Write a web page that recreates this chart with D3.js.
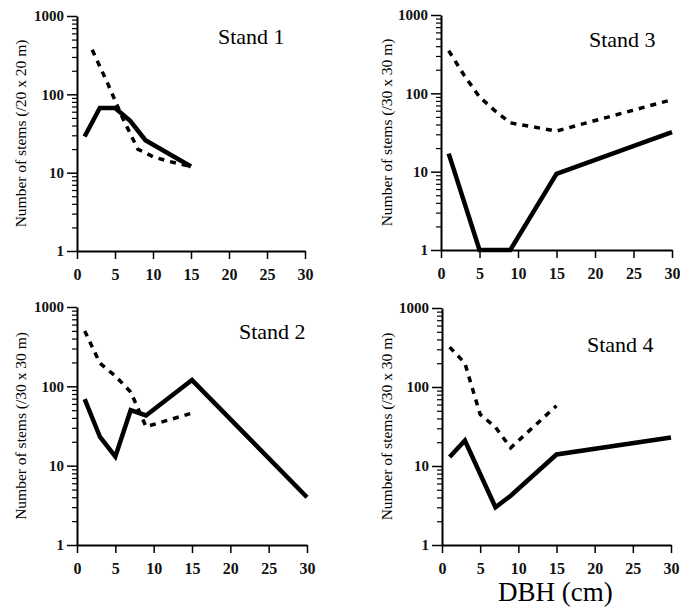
<!DOCTYPE html>
<html>
<head>
<meta charset="utf-8">
<script src="https://cdn.jsdelivr.net/npm/d3@7"></script>
<style>
  body { margin: 0; background: #fff; }
  svg { display: block; font-family: 'Liberation Serif', 'Times New Roman', serif; }
</style>
</head>
<body>
<svg id="chart" width="680" height="616"></svg>
<script>
// tick values
var xTicks = [0, 5, 10, 15, 20, 25, 30]
var yMajor = [1, 10, 100, 1000]

// stand 1 (/20 x 20 m)
var s1SolidX = [1, 3, 5, 7, 9, 15]
var s1SolidY = [29, 67, 67, 46, 26, 12]
var s1DashX = [2, 4, 6, 8, 10, 12, 15]
var s1DashY = [370, 140, 50, 20, 16, 14, 12]

// stand 2 (/30 x 30 m)
var s2SolidX = [1, 3, 5, 7, 9, 15, 30]
var s2SolidY = [69, 23, 13, 50, 43, 120, 4]
var s2DashX = [1, 3, 5, 7, 9, 15]
var s2DashY = [500, 195, 135, 85, 31, 46]

// stand 3 (/30 x 30 m)
var s3SolidX = [1, 5, 9, 15, 30]
var s3SolidY = [17, 1, 1, 9.4, 32]
var s3DashX = [1, 3, 5, 7, 9, 15, 30]
var s3DashY = [350, 170, 90, 60, 42, 33, 83]

// stand 4 (/30 x 30 m)
var s4SolidX = [1, 3, 7, 9, 15, 30]
var s4SolidY = [13, 21, 3, 4.2, 14, 23]
var s4DashX = [1, 3, 5, 7, 9, 15]
var s4DashY = [320, 200, 45, 31, 17, 58]

var svg = d3.select('#chart')

// panel layout (pixel frame of each plot)
var panels = [
  {name: 'Stand 1', unit: '(/20 x 20 m)', left: 77, top: 16, right: 305, bottom: 251,
    solid: [s1SolidX, s1SolidY], dash: [s1DashX, s1DashY], lx: 218, ly: 44, tx: 26},
  {name: 'Stand 3', unit: '(/30 x 30 m)', left: 441, top: 15, right: 672, bottom: 250,
    solid: [s3SolidX, s3SolidY], dash: [s3DashX, s3DashY], lx: 589, ly: 47, tx: 392},
  {name: 'Stand 2', unit: '(/30 x 30 m)', left: 77, top: 307, right: 307, bottom: 545,
    solid: [s2SolidX, s2SolidY], dash: [s2DashX, s2DashY], lx: 239, ly: 339, tx: 26},
  {name: 'Stand 4', unit: '(/30 x 30 m)', left: 442, top: 308, right: 671, bottom: 545,
    solid: [s4SolidX, s4SolidY], dash: [s4DashX, s4DashY], lx: 587, ly: 352, tx: 392}
]

// minor ticks 2..9 in every decade
var yMinor = []
;[1, 10, 100].forEach(function (d) {
  for (var k = 2; k <= 9; k++) yMinor.push(d * k)
})

// axis styling shared by all axes
function styleAxis (a, size) {
  a.attr('font-family', null).attr('font-size', null)
  a.select('.domain').attr('stroke-width', 2)
  a.selectAll('.tick line').attr('stroke-width', 1.5)
  a.selectAll('text')
    .attr('font-family', "'Liberation Serif', serif")
    .attr('font-weight', 'bold')
    .attr('font-size', size)
    .attr('fill', '#111')
}

panels.forEach(function (p) {
  var x = d3.scaleLinear().domain([0, 30]).range([p.left, p.right])
  var y = d3.scaleLog().domain([1, 1000]).range([p.bottom, p.top])
  var g = svg.append('g')

  // x axis
  g.append('g')
    .attr('transform', 'translate(0,' + p.bottom + ')')
    .call(d3.axisBottom(x).tickValues(xTicks).tickSize(8).tickSizeOuter(0).tickPadding(10))
    .call(styleAxis, 16)

  // y axis, major ticks with labels
  g.append('g')
    .attr('transform', 'translate(' + p.left + ',0)')
    .call(d3.axisLeft(y).tickValues(yMajor).tickSize(10).tickSizeOuter(0).tickPadding(3)
      .tickFormat(d3.format('d')))
    .call(styleAxis, 15)

  // y axis, minor ticks
  g.append('g')
    .attr('transform', 'translate(' + p.left + ',0)')
    .call(d3.axisLeft(y).tickValues(yMinor).tickSize(5).tickFormat(''))
    .call(function (a) {
      a.select('.domain').remove()
      a.selectAll('.tick line').attr('stroke-width', 1.2)
    })

  var line = d3.line()
    .x(function (d) { return x(d[0]) })
    .y(function (d) { return y(d[1]) })

  var dashPts = d3.zip(p.dash[0], p.dash[1])
  var solidPts = d3.zip(p.solid[0], p.solid[1])

  g.append('path')
    .datum(dashPts)
    .attr('d', line)
    .attr('fill', 'none')
    .attr('stroke', '#000')
    .attr('stroke-width', 3.5)
    .attr('stroke-dasharray', '6,6')

  g.append('path')
    .datum(solidPts)
    .attr('d', line)
    .attr('fill', 'none')
    .attr('stroke', '#000')
    .attr('stroke-width', 4.5)
    .attr('stroke-linejoin', 'miter')

  // stand label
  g.append('text')
    .attr('x', p.lx)
    .attr('y', p.ly)
    .attr('font-size', 22)
    .text(p.name)

  // y title
  g.append('text')
    .attr('transform', 'translate(' + p.tx + ',' + ((p.top + p.bottom) / 2) + ') rotate(-90)')
    .attr('text-anchor', 'middle')
    .attr('font-size', 15.5)
    .text('Number of stems ' + p.unit)
})

// shared x title
svg.append('text')
  .attr('x', 498)
  .attr('y', 601)
  .attr('font-size', 27)
  .text('DBH (cm)')
</script>
</body>
</html>
